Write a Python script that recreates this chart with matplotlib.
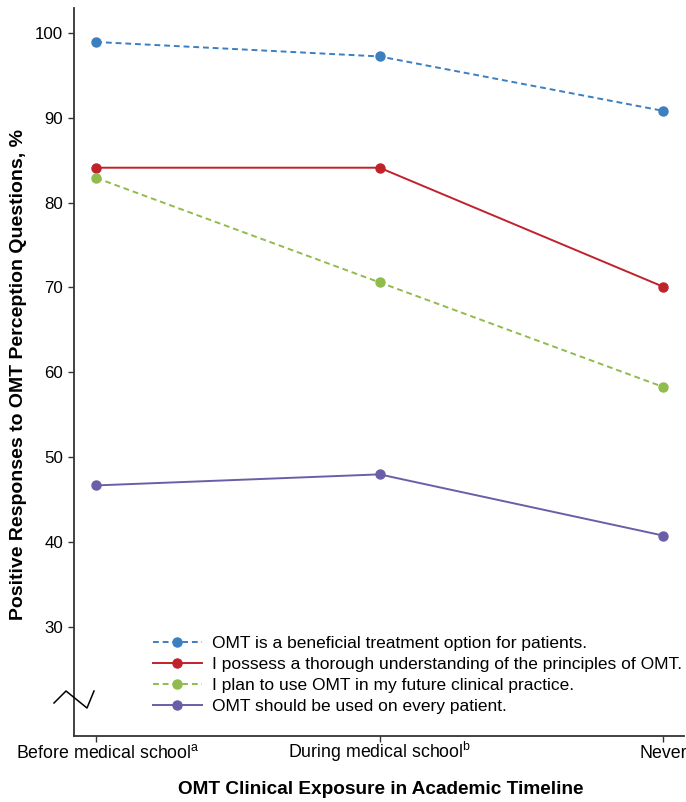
import matplotlib.pyplot as plt
from matplotlib.lines import Line2D
from matplotlib.transforms import ScaledTranslation

plt.rcParams["font.family"] = ["Liberation Sans", "DejaVu Sans"]
plt.rcParams["mathtext.fontset"] = "custom"
plt.rcParams["mathtext.rm"] = "Liberation Sans"

timeline = ["Before medical school$^{\\mathrm{a}}$", "During medical school$^{\\mathrm{b}}$", "Never"]
beneficial = [98.9, 97.2, 90.8]
understanding = [84.1, 84.1, 70.1]
plan_to_use = [82.9, 70.6, 58.3]
every_patient = [46.7, 48.0, 40.8]
labels = [
    "OMT is a beneficial treatment option for patients.",
    "I possess a thorough understanding of the principles of OMT.",
    "I plan to use OMT in my future clinical practice.",
    "OMT should be used on every patient.",
]
y_ticks = [30, 40, 50, 60, 70, 80, 90, 100]

series = [
    (beneficial, "#3b7fc0", (0, (3, 2))),
    (understanding, "#c0222b", "-"),
    (plan_to_use, "#8fbc4c", (0, (3, 2))),
    (every_patient, "#6b5ea8", "-"),
]

fig = plt.figure(figsize=(6.86, 8.02), dpi=100)
ax = fig.add_axes([0.108, 0.0823, 0.889, 0.9077])
x = list(range(len(timeline)))
for (values, color, style), label in zip(series, labels):
    ax.plot(x, values, color=color, linestyle=style, linewidth=1.4,
            marker="o", markersize=6.5, label=label)

ax.set_xlim(-0.078, 2.074)
ax.set_ylim(17.2, 102.9)
ax.set_yticks(y_ticks)
ax.set_xticks(x)
ax.set_xticklabels(timeline)
ax.tick_params(axis="both", length=4.5, width=1, color="#333333")
ax.tick_params(axis="y", labelsize=12.2)
ax.tick_params(axis="x", labelsize=12.8, pad=11.5)
for lbl in ax.get_xticklabels():
    lbl.set_verticalalignment("baseline")
# first label sits a bit right of its tick, clear of the figure edge
first = ax.get_xticklabels()[0]
first.set_transform(first.get_transform() + ScaledTranslation(12 / 100, 0, fig.dpi_scale_trans))
for side in ("top", "right"):
    ax.spines[side].set_visible(False)
for side in ("left", "bottom"):
    ax.spines[side].set_linewidth(1.3)
    ax.spines[side].set_color("#333333")

# axis break mark
px_x = [54, 66, 87, 94]
px_y = [703, 691, 708, 691]
fig.add_artist(Line2D([v / 686 for v in px_x], [1 - v / 802 for v in px_y],
                      color="black", linewidth=1.1))

fig.text(18.5 / 686, 1 - 374 / 802, "Positive Responses to OMT Perception Questions, %",
         fontsize=14, fontweight="bold", rotation=90, ha="center", va="center")
fig.text(381 / 686, 1 - 790 / 802, "OMT Clinical Exposure in Academic Timeline",
         fontsize=13.7, fontweight="bold", ha="center", va="center")
ax.legend(loc="upper left", bbox_to_anchor=(146 / 686, 1 - 629 / 802),
          bbox_transform=fig.transFigure, frameon=False, fontsize=12.5,
          handlelength=2.8, handletextpad=0.6, labelspacing=0.33,
          borderaxespad=0)

fig.savefig("out.png", dpi=100)
